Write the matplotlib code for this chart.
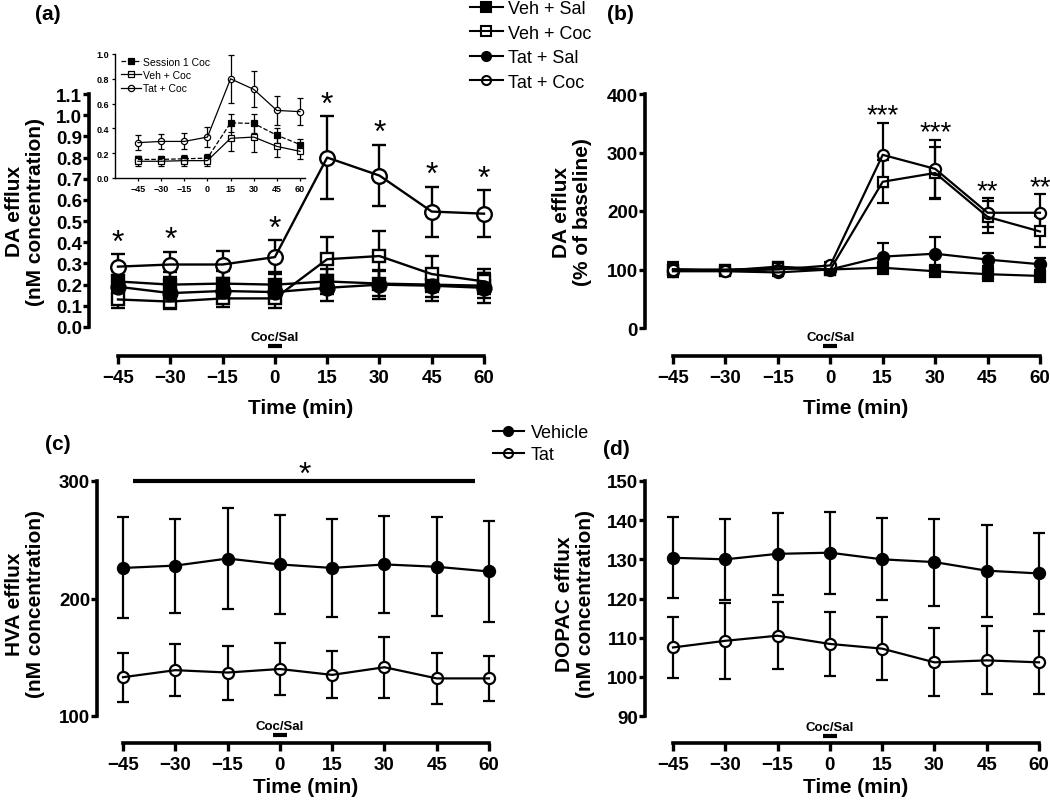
import numpy as np
import matplotlib
matplotlib.use("Agg")
import matplotlib.pyplot as plt
from matplotlib.lines import Line2D
from matplotlib.ticker import FormatStrFormatter

plt.rcParams['font.family'] = ['Liberation Sans', 'DejaVu Sans']

time = [-45, -30, -15, 0, 15, 30, 45, 60]

# (a) DA efflux, nM
a_veh_sal = [0.215, 0.20, 0.205, 0.20, 0.215, 0.205, 0.20, 0.195]
a_veh_sal_se = [0.05, 0.06, 0.06, 0.06, 0.06, 0.06, 0.06, 0.06]
a_veh_coc = [0.13, 0.12, 0.135, 0.135, 0.32, 0.335, 0.25, 0.215]
a_veh_coc_se = [0.04, 0.035, 0.04, 0.045, 0.105, 0.12, 0.085, 0.06]
a_tat_sal = [0.19, 0.16, 0.17, 0.165, 0.185, 0.20, 0.195, 0.185]
a_tat_sal_se = [0.05, 0.05, 0.05, 0.05, 0.06, 0.07, 0.07, 0.07]
a_tat_coc = [0.285, 0.295, 0.295, 0.33, 0.80, 0.715, 0.545, 0.535]
a_tat_coc_se = [0.06, 0.06, 0.065, 0.08, 0.195, 0.145, 0.118, 0.11]
a_star_times = [-45, -30, 0, 15, 30, 45, 60]
a_yticks = [0.0, 0.1, 0.2, 0.3, 0.4, 0.5, 0.6, 0.7, 0.8, 0.9, 1.0, 1.1]

# (a) inset
in_sess1 = [0.15, 0.15, 0.155, 0.16, 0.445, 0.44, 0.345, 0.27]
in_sess1_se = [0.03, 0.03, 0.03, 0.03, 0.07, 0.075, 0.06, 0.045]
in_veh_coc = [0.135, 0.135, 0.14, 0.14, 0.32, 0.33, 0.255, 0.215]
in_veh_coc_se = [0.04, 0.035, 0.04, 0.045, 0.105, 0.12, 0.085, 0.06]
in_tat_coc = a_tat_coc
in_tat_coc_se = a_tat_coc_se
in_yticks = [0.0, 0.2, 0.4, 0.6, 0.8, 1.0]

# (b) DA efflux, % of baseline
b_veh_sal = [100, 98, 105, 100, 103, 97, 92, 89]
b_veh_sal_se = [10, 8, 8, 6, 10, 10, 12, 10]
b_veh_coc = [100, 100, 102, 100, 250, 265, 190, 165]
b_veh_coc_se = [8, 8, 6, 6, 37, 44, 27, 26]
b_tat_sal = [97, 97, 95, 100, 122, 127, 117, 109]
b_tat_sal_se = [10, 8, 6, 6, 24, 28, 11, 10]
b_tat_coc = [100, 98, 100, 107, 296, 272, 197, 197]
b_tat_coc_se = [12, 6, 8, 5, 55, 50, 25, 32]
b_star_times = [15, 30, 45, 60]
b_star_text = ['***', '***', '**', '**']
b_yticks = [0, 100, 200, 300, 400]

# (c) HVA efflux
c_veh = [226, 228, 234, 229, 226, 229, 227, 223]
c_veh_se = [43, 40, 43, 42, 42, 41, 42, 43]
c_tat = [133, 139, 137, 140, 135, 141.5, 132, 132]
c_tat_se = [21, 22, 23, 22, 20, 26, 22, 19]
c_sig_span = [-42, 56]
c_yticks = [100, 200, 300]

# (d) DOPAC efflux
d_veh = [130.4, 130.0, 131.4, 131.7, 130.0, 129.3, 127.1, 126.4]
d_veh_se = [10.3, 10.4, 10.5, 10.5, 10.5, 11.1, 11.7, 10.3]
d_tat = [107.5, 109.2, 110.5, 108.4, 107.2, 103.7, 104.2, 103.7]
d_tat_se = [7.7, 9.7, 8.5, 8.2, 8.0, 8.7, 8.7, 8.0]
d_yticks = [90, 100, 110, 120, 130, 140, 150]

W, H = 1050, 803
fig = plt.figure(figsize=(W / 100, H / 100), dpi=100)


def panel(box, ylim, yticks, xspine_y, fmt=None):
    # box: y-spine x, x of -45, x of 60, y of ymin, y of ymax, right edge (pixels)
    sx, xa, xb, yb, yt, rx = box
    ppm = (xb - xa) / 105.0
    ax = fig.add_axes([sx / W, 1 - yb / H, (rx - sx) / W, (yb - yt) / H])
    ax.set_xlim(-45 - (xa - sx) / ppm, 60 + (rx - xb) / ppm)
    ax.set_ylim(*ylim)
    ax.patch.set_visible(False)
    ax.spines[['top', 'right']].set_visible(False)
    ax.spines['bottom'].set_position(('outward', (xspine_y - yb) * 0.72))
    ax.spines['bottom'].set_bounds(-45, 60)
    ax.spines['left'].set_bounds(*ylim)
    for s in ['left', 'bottom']:
        ax.spines[s].set_linewidth(2.6)
    ax.set_xticks(time)
    ax.set_yticks(yticks)
    if fmt:
        ax.yaxis.set_major_formatter(FormatStrFormatter(fmt))
    ax.tick_params(axis='x', width=2.4, length=5.5, pad=4, labelsize=13.5)
    ax.tick_params(axis='y', width=2.4, length=4, pad=1, labelsize=13.5)
    for lab in ax.get_xticklabels() + ax.get_yticklabels():
        lab.set_fontweight('bold')
    ax.box = box
    return ax


def fx(ax, xpx):
    sx, xa, xb, yb, yt, rx = ax.box
    return (xpx - sx) / (rx - sx)


def fy(ax, ypx):
    sx, xa, xb, yb, yt, rx = ax.box
    return (yb - ypx) / (yb - yt)


def series(ax, y, se, marker, filled, ms, lw, cap, ls='-', z=2):
    ax.errorbar(time, y, yerr=se, fmt='none', ecolor='black', elinewidth=lw,
                capsize=cap, capthick=lw, zorder=z, clip_on=False)
    ax.plot(time, y, ls='none', marker=marker, ms=ms, mfc='black' if filled else 'white',
            mec='black', mew=lw, zorder=z + 0.1, clip_on=False)
    ax.plot(time, y, ls=ls, color='black', lw=lw, zorder=z + 0.2, clip_on=False)


def handle(marker, filled, ms, lw, ls='-'):
    return Line2D([], [], color='black', ls=ls, lw=lw, marker=marker, ms=ms,
                  mfc='black' if filled else 'none', mec='black', mew=lw)


def labels(ax, ylab, ylab_x, xlab_x, xlab_y, ylab_y=None):
    ax.set_ylabel(ylab, fontsize=15, fontweight='bold', va='center', linespacing=1.1)
    ax.yaxis.set_label_coords(fx(ax, ylab_x), 0.5 if ylab_y is None else fy(ax, ylab_y))
    ax.set_xlabel('Time (min)', fontsize=15, fontweight='bold', va='center')
    ax.xaxis.set_label_coords(fx(ax, xlab_x), fy(ax, xlab_y))


def coc_sal(ax, text_y, bar_y):
    tr = ax.get_xaxis_transform()
    ax.text(0, fy(ax, text_y), 'Coc/Sal', transform=tr, ha='center', va='center',
            fontsize=9.5, fontweight='bold', clip_on=False)
    ax.plot([-2, 2], [fy(ax, bar_y)] * 2, transform=tr, color='black', lw=3,
            solid_capstyle='butt', clip_on=False)


def stars(ax, xs, tops, texts, fs, off, weight='normal'):
    for x, t, s in zip(xs, tops, texts):
        ax.annotate(s, (x, t), xytext=(0, off), textcoords='offset points', ha='center',
                    va='baseline', fontsize=fs, fontweight=weight, annotation_clip=False)


# ---------- (a)
ax = panel((89, 118, 484, 328, 95, 500), (0, 1.1), a_yticks, 357, '%.1f')
series(ax, a_veh_sal, a_veh_sal_se, 's', True, 9, 1.7, 5)
series(ax, a_veh_coc, a_veh_coc_se, 's', False, 9, 1.7, 5)
series(ax, a_tat_sal, a_tat_sal_se, 'o', True, 10, 1.7, 5)
series(ax, a_tat_coc, a_tat_coc_se, 'o', False, 10.5, 1.7, 5)
tops = [a_tat_coc[time.index(t)] + a_tat_coc_se[time.index(t)] for t in a_star_times]
stars(ax, a_star_times, tops, ['*'] * len(a_star_times), 23, 2.5)
labels(ax, 'DA efflux\n(nM concentration)', 25, 301, 408)
coc_sal(ax, 338, 347)

fig.legend([handle('s', True, 6.5, 1.5), handle('s', False, 6.5, 1.5),
            handle('o', True, 6.5, 1.5), handle('o', False, 6.5, 1.5)],
           ['Veh + Sal', 'Veh + Coc', 'Tat + Sal', 'Tat + Coc'],
           loc='upper left', bbox_to_anchor=(470 / W, 1 - 1 / H), frameon=False,
           fontsize=13, handlelength=1.8, handletextpad=0.3, labelspacing=0.42,
           borderpad=0, borderaxespad=0)

# inset
axi = fig.add_axes([115 / W, 1 - 179 / H, (305 - 115) / W, (179 - 55) / H])
ppm_i = (300 - 138) / 105.0
axi.set_xlim(-45 - (138 - 115) / ppm_i, 60 + 5 / ppm_i)
axi.set_ylim(0, 1.0)
axi.patch.set_visible(False)
axi.spines[['top', 'right']].set_visible(False)
for s in ['left', 'bottom']:
    axi.spines[s].set_linewidth(1.0)
axi.set_xticks(time)
axi.set_yticks(in_yticks)
axi.yaxis.set_major_formatter(FormatStrFormatter('%.1f'))
axi.tick_params(width=0.9, length=2.5, pad=1.5, labelsize=6.5)
for lab in axi.get_xticklabels() + axi.get_yticklabels():
    lab.set_fontweight('bold')
series(axi, in_sess1, in_sess1_se, 's', True, 4, 0.9, 2, ls='--')
series(axi, in_veh_coc, in_veh_coc_se, 's', False, 4.5, 0.9, 2)
series(axi, in_tat_coc, in_tat_coc_se, 'o', False, 4.5, 0.9, 2)
axi.legend([handle('s', True, 4, 0.9, '--'), handle('s', False, 4.5, 0.9),
            handle('o', False, 4.5, 0.9)],
           ['Session 1 Coc', 'Veh + Coc', 'Tat + Coc'],
           loc='upper left', bbox_to_anchor=(121 / W, 1 - 58 / H), bbox_transform=fig.transFigure,
           frameon=False, fontsize=7.5, handlelength=1.9, handletextpad=0.2,
           labelspacing=0.3, borderpad=0, borderaxespad=0)

# ---------- (b)
ax = panel((645, 673, 1040, 329, 95, 1049), (0, 400), b_yticks, 357)
series(ax, b_veh_sal, b_veh_sal_se, 's', True, 7.5, 1.6, 4)
series(ax, b_veh_coc, b_veh_coc_se, 's', False, 7.5, 1.6, 4)
series(ax, b_tat_sal, b_tat_sal_se, 'o', True, 8, 1.6, 4)
series(ax, b_tat_coc, b_tat_coc_se, 'o', False, 8, 1.6, 4)
tops = []
for t in b_star_times:
    i = time.index(t)
    tops.append(max(b_tat_coc[i] + b_tat_coc_se[i], b_veh_coc[i] + b_veh_coc_se[i]))
stars(ax, b_star_times, tops, b_star_text, 20, 0)
labels(ax, 'DA efflux\n(% of baseline)', 572, 856, 408)
coc_sal(ax, 338, 347)

# ---------- (c)
ax = panel((97, 123, 489, 717, 482, 505), (100, 300), c_yticks, 744)
series(ax, c_veh, c_veh_se, 'o', True, 8, 1.6, 4.3)
series(ax, c_tat, c_tat_se, 'o', False, 8, 1.6, 4.3)
ax.plot(c_sig_span, [300, 300], color='black', lw=3, solid_capstyle='butt', clip_on=False)
stars(ax, [np.mean(c_sig_span)], [300], ['*'], 23, -1.5)
labels(ax, 'HVA efflux\n(nM concentration)', 25, 306, 788, 604)
coc_sal(ax, 727, 736)

fig.legend([handle('o', True, 6.5, 1.5), handle('o', False, 6.5, 1.5)],
           ['Vehicle', 'Tat'], loc='upper left', bbox_to_anchor=(493 / W, 1 - 425 / H),
           frameon=False, fontsize=13, handlelength=1.7, handletextpad=0.4,
           labelspacing=0.3, borderpad=0, borderaxespad=0)

# ---------- (d)
ax = panel((645, 673, 1039, 717, 482, 1049), (90, 150), d_yticks, 744)
series(ax, d_veh, d_veh_se, 'o', True, 8, 1.6, 4.3)
series(ax, d_tat, d_tat_se, 'o', False, 8, 1.6, 4.3)
labels(ax, 'DOPAC efflux\n(nM concentration)', 575, 856, 788, 604)
coc_sal(ax, 728, 737)

# panel letters
for s, x, y in [('(a)', 35, 15), ('(b)', 607, 15), ('(c)', 45, 445), ('(d)', 603, 450)]:
    fig.text(x / W, 1 - y / H, s, fontsize=15, fontweight='bold', va='center')

fig.savefig('out.png', dpi=100)
